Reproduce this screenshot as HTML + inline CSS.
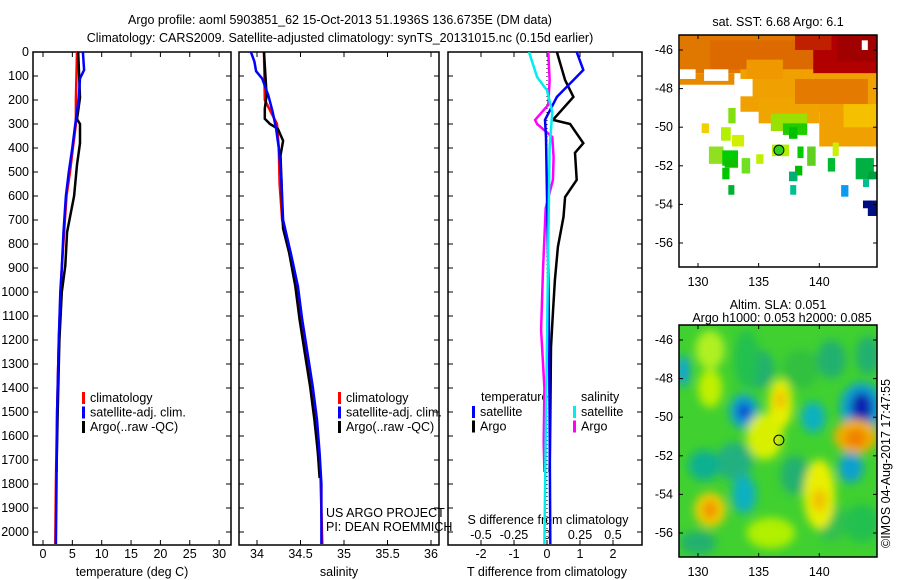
<!DOCTYPE html>
<html><head><meta charset="utf-8"><style>
html,body{margin:0;padding:0;background:#fff;}
svg{display:block;font-family:"Liberation Sans",sans-serif;}
text{font-size:12.5px;fill:#000;}
</style></head><body>
<svg id="fig" width="900" height="580" viewBox="0 0 900 580">
<defs>
<filter id="blur" x="-50%" y="-50%" width="200%" height="200%"><feGaussianBlur stdDeviation="4.5"/></filter>
<clipPath id="clipT"><rect x="33" y="52" width="198" height="493"/></clipPath>
<clipPath id="clipS"><rect x="239" y="52" width="200" height="493"/></clipPath>
<clipPath id="clipD"><rect x="448" y="52" width="194" height="493"/></clipPath>
<clipPath id="clipM1"><rect x="679" y="35" width="198" height="232"/></clipPath>
<clipPath id="clipM2"><rect x="679" y="325" width="198" height="232"/></clipPath>
</defs>
<text x="340" y="24" text-anchor="middle">Argo profile: aoml 5903851_62 15-Oct-2013 51.1936S 136.6735E (DM data)</text>
<text x="340" y="42" text-anchor="middle">Climatology: CARS2009. Satellite-adjusted climatology: synTS_20131015.nc (0.15d earlier)</text>
<g id="axes"></g>
<g id="series"></g>
<g id="maps"></g>
</svg>
<script>
// ---- data ----
const depthTicks=[0,100,200,300,400,500,600,700,800,900,1000,1100,1200,1300,1400,1500,1600,1700,1800,1900,2000];
const tempTicks=[0,5,10,15,20,25,30];
const salTicks=[34,34.5,35,35.5,36];
const salTickLabels=["34","34.5","35","35.5","36"];
const tdTicks=[-2,-1,0,1,2];
const sdTicks=[-0.5,-0.25,0,0.25,0.5];
const sdTickLabels=["-0.5","-0.25","0","0.25","0.5"];

const tClimD=[0,200,300,400,500,600,750,900,1000,1200,1500,1800,2050];
const tClimV=[5.8,5.6,5.6,5.1,4.6,4.0,3.6,3.2,3.0,2.7,2.4,2.2,2.1];
const tSatD=[0,75,110,190,300,400,500,600,750,900,1000,1200,1500,1800,2050];
const tSatV=[6.8,7.0,6.3,6.1,5.5,5.0,4.4,3.9,3.5,3.2,2.95,2.7,2.4,2.3,2.2];
const tArgoD=[0,190,280,300,380,470,600,750,890,1000,1200,1500,1750];
const tArgoV=[6.0,6.3,5.8,6.3,6.3,5.8,5.3,4.1,3.8,3.2,2.8,2.5,2.3];

const sClimD=[0,200,250,300,400,550,700,840,976,1115,1254,1393,1532,1671,1775,2050];
const sClimV=[34.08,34.09,34.16,34.23,34.25,34.26,34.29,34.38,34.45,34.5,34.56,34.62,34.67,34.70,34.73,34.75];
const sSatD=[0,40,80,111,180,250,320,400,530,700,840,976,1115,1254,1393,1532,1671,1800,2050];
const sSatV=[33.93,33.97,33.99,34.06,34.13,34.18,34.22,34.25,34.28,34.30,34.39,34.47,34.52,34.58,34.64,34.69,34.72,34.74,34.74];
const sArgoD=[0,180,236,278,300,320,370,431,528,667,736,838,976,1115,1254,1393,1532,1671,1775];
const sArgoV=[34.08,34.11,34.09,34.09,34.15,34.24,34.30,34.27,34.28,34.29,34.30,34.37,34.44,34.49,34.55,34.61,34.66,34.70,34.72];

const tdArgoD=[0,117,187,283,300,380,420,533,604,687,812,950,1088,1229,1646,1750];
const tdArgoV=[0.30,0.55,0.8,0.18,0.7,1.1,0.85,0.9,0.55,0.5,0.33,0.24,0.18,0.12,0.09,0.08];
const tdSatD=[0,75,117,187,283,354,600,1000,1500,2050];
const tdSatV=[0.9,1.1,0.8,0.3,-0.06,-0.03,0.0,0.05,0.08,0.1];
const sdSatD=[0,104,160,250,400,800,1200,1600,2050];
const sdSatV=[-0.136,-0.075,0,0.04,0.02,0.01,0.0,-0.01,-0.02];
const sdArgoD=[0,117,220,283,300,354,440,533,650,908,1158,1400,1625,1750];
const sdArgoV=[0.01,0.02,0.01,-0.09,-0.075,0.04,0.05,0.045,-0.01,-0.03,-0.045,-0.02,-0.025,-0.02];

// ---- scales ----
const yD=d=>52+d*0.24;
const xT=v=>43+v*5.87;
const xS=v=>257+(v-34)*87;
const xTD=v=>547+v*33;
const xSD=v=>547+v*132;

const NS='http://www.w3.org/2000/svg';
function mk(tag,attrs,parent,txt){const e=document.createElementNS(NS,tag);for(const k in attrs)e.setAttribute(k,attrs[k]);if(txt!==undefined)e.textContent=txt;parent.appendChild(e);return e;}
const axes=document.getElementById('axes'), ser=document.getElementById('series'), maps=document.getElementById('maps');

function frame(x0,x1,name,xticks,xs,labels){
  const r=mk('rect',{x:x0,y:52,width:x1-x0,height:493,fill:'none',stroke:'#000','stroke-width':1.5},axes);
  
  
  depthTicks.forEach(d=>{
    mk('line',{x1:x0,x2:x0+5,y1:yD(d),y2:yD(d),stroke:'#000'},axes);
    mk('line',{x1:x1-5,x2:x1,y1:yD(d),y2:yD(d),stroke:'#000'},axes);
  });
  xticks.forEach((v,i)=>{
    const x=xs(v);
    mk('line',{x1:x,x2:x,y1:545,y2:540,stroke:'#000'},axes);
    mk('line',{x1:x,x2:x,y1:52,y2:57,stroke:'#000'},axes);
    const t=mk('text',{x:x,y:558,'text-anchor':'middle'},axes,labels[i]);
    
    
  });
}
depthTicks.forEach(d=>{
  const t=mk('text',{x:29,y:yD(d)+4,'text-anchor':'end'},axes,String(d));
  
  
});
frame(33,231,'temperature-panel',tempTicks,xT,tempTicks.map(String));
frame(239,439,'salinity-panel',salTicks,xS,salTickLabels);
frame(448,642,'difference-panel',tdTicks,xTD,tdTicks.map(String));
let t;
t=mk('text',{x:132,y:576,'text-anchor':'middle'},axes,'temperature (deg C)');

t=mk('text',{x:339,y:576,'text-anchor':'middle'},axes,'salinity');

t=mk('text',{x:547,y:576,'text-anchor':'middle'},axes,'T difference from climatology');

t=mk('text',{x:548,y:524,'text-anchor':'middle'},axes,'S difference from climatology');

sdTicks.forEach((v,i)=>{
  const tt=mk('text',{x:xSD(v),y:539,'text-anchor':'middle'},axes,sdTickLabels[i]);
  
  
});
const zl=mk('line',{x1:547,x2:547,y1:yD(0),y2:yD(2050),stroke:'#000','stroke-dasharray':'1,3'},ser);


function line(D,V,xs,color,clip,name,w){
  const pts=D.map((d,i)=>xs(V[i]).toFixed(1)+','+yD(d).toFixed(1)).join(' ');
  const p=mk('polyline',{points:pts,fill:'none',stroke:color,'stroke-width':w||2.5,'clip-path':'url(#'+clip+')'},ser);
  
  
}
line(tClimD,tClimV,xT,'#f00','clipT','temperature-climatology-line');
line(tArgoD,tArgoV,xT,'#000','clipT','temperature-argo-line');
line(tSatD,tSatV,xT,'#00f','clipT','temperature-satellite-line');
line(sClimD,sClimV,xS,'#f00','clipS','salinity-climatology-line');
line(sArgoD,sArgoV,xS,'#000','clipS','salinity-argo-line');
line(sSatD,sSatV,xS,'#00f','clipS','salinity-satellite-line');
line(tdArgoD,tdArgoV,xTD,'#000','clipD','t-diff-argo-line');
line(sdArgoD,sdArgoV,xSD,'#f0f','clipD','s-diff-argo-line');
line(tdSatD,tdSatV,xTD,'#00f','clipD','t-diff-satellite-line');
line(sdSatD,sdSatV,xSD,'#0ee','clipD','s-diff-satellite-line');

function legend(x,y,items,name){
  items.forEach((it,i)=>{
    const yy=y+i*14.5;
    mk('rect',{x:x,y:yy-9,width:3,height:12,fill:it[1]},axes);
    const tx=mk('text',{x:x+8,y:yy+1},axes,it[0]);
    
    
  });
}
legend(82,401,[['climatology','#f00'],['satellite-adj. clim.','#00f'],['Argo(..raw -QC)','#000']],'temperature-legend');
legend(338,401,[['climatology','#f00'],['satellite-adj. clim.','#00f'],['Argo(..raw -QC)','#000']],'salinity-legend');
t=mk('text',{x:481,y:401},axes,'temperature');
t=mk('text',{x:581,y:401},axes,'salinity');
legend(472,415,[['satellite','#00f'],['Argo','#000']],'diff-temperature-legend');
legend(573,415,[['satellite','#0ee'],['Argo','#f0f']],'diff-salinity-legend');
t=mk('text',{x:326,y:517},axes,'US ARGO PROJECT');
t=mk('text',{x:326,y:531},axes,'PI: DEAN ROEMMICH');

// ---- maps ----
const lonTicks=[130,135,140];
const latTicks=[-46,-48,-50,-52,-54,-56];
const mLon=v=>698+(v-130)*12.13;
function mapFrame(y0,latY,name,title1,title2){
  const r=mk('rect',{x:679,y:y0,width:198,height:232,fill:'none',stroke:'#000','stroke-width':1.5},maps);
  
  lonTicks.forEach(v=>{
    mk('line',{x1:mLon(v),x2:mLon(v),y1:y0,y2:y0+4,stroke:'#000'},maps);
    mk('line',{x1:mLon(v),x2:mLon(v),y1:y0+232,y2:y0+228,stroke:'#000'},maps);
    const tx=mk('text',{x:mLon(v),y:y0+251,'text-anchor':'middle'},maps,String(v));
    
  });
  latTicks.forEach(v=>{
    const y=latY(v);
    mk('line',{x1:679,x2:683,y1:y,y2:y,stroke:'#000'},maps);
    mk('line',{x1:873,x2:877,y1:y,y2:y,stroke:'#000'},maps);
    const tx=mk('text',{x:673,y:y+4,'text-anchor':'end'},maps,String(v));
    
  });
  const a=mk('text',{x:778,y:title2?y0-16:y0-9,'text-anchor':'middle'},maps,title1);
  
  if(title2){const b=mk('text',{x:782,y:y0-3,'text-anchor':'middle'},maps,title2);
  }
}
const lat1=v=>50+(-46-v)*19.3;
const lat2=v=>340+(-46-v)*19.3;
const sstBlocks=[
 [128.5,-45.2,145,-47.2,'#e07800'],[128.5,-47.2,133,-48.3,'#e88a00'],[131,-45.5,140,-47,'#dd6a00'],
 [133.5,-47,145,-49.2,'#f0a000'],[135,-48.5,140,-49.8,'#f0a400'],[140,-49,145,-51,'#f0a000'],
 [142,-48.8,145,-50,'#f5c000'],[138,-47.5,144,-48.8,'#e47a00'],[134,-46.5,137,-47.5,'#f09800'],
 [139.5,-45.2,145,-47.2,'#b00000'],[141.5,-45.2,145,-46.6,'#a00000'],[138,-45.2,141,-46,'#c02000'],
 [136,-49.3,139,-50.2,'#9ae000'],[137,-49.8,139,-50.4,'#20cc00'],[137.5,-50,138.2,-50.6,'#00c000'],
 [130.3,-49.8,130.9,-50.3,'#f0d000'],[131.9,-50,132.7,-50.7,'#b0f000'],[132.5,-49,133.1,-49.8,'#80e010'],
 [132.8,-50.4,133.8,-51,'#d0f000'],[130.9,-51,132.1,-51.9,'#90e020'],[132,-51.2,133.3,-52,'#00cc00'],
 [132.2,-51.7,133.3,-52.1,'#10c000'],[132,-52.1,132.6,-52.7,'#00c800'],[133.6,-51.6,134.3,-52.4,'#70e020'],
 [134.8,-51.4,135.4,-51.9,'#c0f000'],[136.1,-50.9,137.5,-51.5,'#b0f000'],[138.2,-51,138.7,-51.6,'#00cc00'],
 [139,-51,139.7,-52,'#60d020'],[138,-52,138.6,-52.5,'#00bb00'],[137.5,-52.3,138.2,-52.8,'#00b070'],
 [132.5,-53,133,-53.5,'#00b030'],[137.6,-53,138.1,-53.5,'#00c090'],[141.8,-53,142.4,-53.6,'#0a9af0'],
 [140.7,-51.6,141.3,-52.3,'#00bb30'],[143,-51.6,144.5,-52.7,'#00b040'],[144,-52.3,145,-52.7,'#00a040'],
 [141.1,-50.8,141.6,-51.5,'#c8f000'],[143.6,-52.7,144.1,-53.1,'#00c090'],
 [144,-53.8,145,-54.6,'#001080'],[143.6,-53.8,144.3,-54.2,'#000a80']];
const sstG=mk('g',{'clip-path':'url(#clipM1)'},maps);

sstBlocks.forEach(b=>{
  mk('rect',{x:mLon(b[0]),y:lat1(b[1]),width:(b[2]-b[0])*12.13,height:(b[1]-b[3])*19.3,fill:b[4]},sstG);
});
[[128.5,-47.8,133,-49,'#fff'],[130.5,-47,132.5,-47.6,'#fff'],[128.5,-47,129.8,-47.5,'#fff'],[143.5,-45.5,144,-46,'#fff'],[133,-47.5,134.5,-48.4,'#fff']].forEach(b=>{
  mk('rect',{x:mLon(b[0]),y:lat1(b[1]),width:(b[2]-b[0])*12.13,height:(b[1]-b[3])*19.3,fill:b[4]},sstG);
});
mk('circle',{cx:mLon(136.67),cy:lat1(-51.19),r:5,fill:'#30d020',stroke:'#000'},maps);
mapFrame(35,lat1,'sst-map','sat. SST: 6.68 Argo: 6.1');

const slaBlobs=[
 [135,-47.5,1.3,1,'#20b070'],[141,-47,1.2,1,'#20b070'],[144,-46.8,1,1,'#20b070'],[133,-52.3,1.5,1,'#20b080'],
 [138,-53,1.2,1,'#20b070'],[130,-56.5,1.5,0.6,'#20b070'],[141,-55.5,1.2,1,'#30c050'],
 [131,-46.5,1.2,1,'#b0f020'],[134,-47,1,1.5,'#20c050'],[128.8,-47.6,0.5,0.8,'#10a0e0'],
 [133.8,-49.7,1.2,0.9,'#10a0d0'],[133.8,-49.7,0.5,0.4,'#1030d0'],[143.5,-49.5,1.8,1.3,'#10a0d0'],
 [143.5,-49.5,0.9,0.8,'#1020b0'],[136.8,-49.3,1,1.3,'#e8f000'],[136.8,-49.1,0.5,0.5,'#f0c000'],
 [135.5,-51,1.5,1.2,'#d8f000'],[143,-51,1.8,0.9,'#f0b000'],[143,-51.1,0.9,0.5,'#f08000'],
 [131,-54.8,1.3,0.9,'#f0d000'],[131,-54.8,0.6,0.5,'#f09000'],[140,-54,1.3,1.8,'#e8f000'],
 [140,-54.3,0.6,0.6,'#f0c000'],[139.5,-50,1,0.8,'#10b0c0'],[142.6,-52.6,1,0.8,'#10a0d0'],
 [133.8,-54,1,1,'#10b0c0'],[130.5,-52.5,1.3,0.8,'#10b090'],[131,-48.5,1,1,'#c0f000'],
 [138.5,-47.5,1.5,1,'#30c040'],[136,-56,2,0.8,'#b0f000'],[143.5,-55.5,1.5,1,'#20c050']];
const slaG=mk('g',{'clip-path':'url(#clipM2)'},maps);

mk('rect',{x:679,y:325,width:198,height:232,fill:'#40d030'},slaG);
const slaInner=mk('g',{filter:'url(#blur)'},slaG);
slaBlobs.forEach(b=>{
  mk('ellipse',{cx:mLon(b[0]),cy:lat2(b[1]),rx:b[2]*12.13,ry:b[3]*19.3,fill:b[4]},slaInner);
});
mk('circle',{cx:mLon(136.67),cy:lat2(-51.19),r:5,fill:'none',stroke:'#000'},maps);
mapFrame(325,lat2,'sla-map','Altim. SLA: 0.051','Argo h1000: 0.053 h2000: 0.085');
t=mk('text',{x:0,y:0,transform:'translate(890,548) rotate(-90)'},maps,'©IMOS 04-Aug-2017 17:47:55');

</script>
</body></html>
